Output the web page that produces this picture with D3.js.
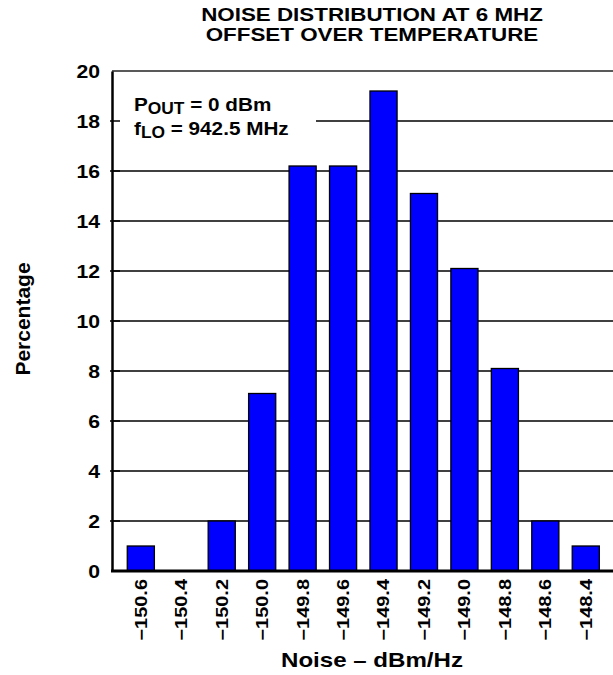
<!DOCTYPE html>
<html>
<head>
<meta charset="utf-8">
<script src="https://cdn.jsdelivr.net/npm/d3@7"></script>
<style>
  html, body { margin: 0; padding: 0; background: #fff; }
  svg { display: block; }
  text { font-family: "Liberation Sans", Arial, Helvetica, sans-serif; font-weight: bold; fill: #000; }
</style>
</head>
<body>
<script>
const categories = ["\u2212150.6", "\u2212150.4", "\u2212150.2", "\u2212150.0", "\u2212149.8", "\u2212149.6",
                    "\u2212149.4", "\u2212149.2", "\u2212149.0", "\u2212148.8", "\u2212148.6", "\u2212148.4"];
const percentages = [1, 0, 2, 7.1, 16.2, 16.2, 19.2, 15.1, 12.1, 8.1, 2, 1];
const yTicks = [0, 2, 4, 6, 8, 10, 12, 14, 16, 18, 20];
const titleLines = ["NOISE DISTRIBUTION AT 6 MHZ", "OFFSET OVER TEMPERATURE"];
const xTitle = "Noise \u2013 dBm/Hz";
const yTitle = "Percentage";

const W = 613, H = 675;
const plotL = 112, plotR = 613, plotT = 71, plotB = 571;
const SX = 1.21; // horizontal stretch of the original lettering

const svg = d3.select("body").append("svg").attr("width", W).attr("height", H);

const y = d3.scaleLinear().domain([0, 20]).range([plotB, plotT]);
const x = d3.scaleBand().domain(categories).range([120.6, 606])
  .paddingInner(0.33).paddingOuter(0.165);

// Title
svg.append("g").selectAll("text").data(titleLines).join("text")
  .attr("transform", (d, i) => `translate(372,${21 + i * 20}) scale(${SX},1)`)
  .attr("text-anchor", "middle").attr("font-size", 18.5)
  .text(d => d);

// Gridlines
svg.append("g").selectAll("line").data(yTicks.filter(t => t > 0 && t < 20)).join("line")
  .attr("x1", plotL).attr("x2", plotR)
  .attr("y1", d => y(d)).attr("y2", d => y(d))
  .attr("stroke", "#000").attr("stroke-width", 1.4);

// top border
svg.append("line").attr("x1", plotL).attr("x2", plotR).attr("y1", y(20)).attr("y2", y(20))
  .attr("stroke", "#222").attr("stroke-width", 1.5);

// Bars
svg.append("g").selectAll("rect").data(percentages).join("rect")
  .attr("x", (d, i) => x(categories[i]))
  .attr("width", x.bandwidth())
  .attr("y", d => y(d))
  .attr("height", d => y(0) - y(d))
  .attr("fill", "#0000ff")
  .attr("stroke", "#000").attr("stroke-width", 1.3)
  .style("display", d => d > 0 ? null : "none");

// Legend background
svg.append("rect").attr("x", plotL + 1).attr("y", 88).attr("width", 203).attr("height", 58).attr("fill", "#fff");

// Inner tick marks
svg.append("g").selectAll("line").data(yTicks.filter(t => t > 0 && t < 20)).join("line")
  .attr("x1", plotL - 2).attr("x2", plotL + 8)
  .attr("y1", d => y(d)).attr("y2", d => y(d))
  .attr("stroke", "#000").attr("stroke-width", 1.5);

// Legend text
const lg = svg.append("g").attr("font-size", 18.7);
const t1 = lg.append("text").attr("transform", `translate(134,110.5) scale(1.107,1)`);
t1.append("tspan").text("P");
t1.append("tspan").attr("font-size", 15.7).attr("dy", 3.5).text("OUT");
t1.append("tspan").attr("dy", -3.5).text(" = 0 dBm");
const t2 = lg.append("text").attr("transform", `translate(134,134.5) scale(1.107,1)`);
t2.append("tspan").text("f");
t2.append("tspan").attr("font-size", 15.7).attr("dy", 3.5).text("LO");
t2.append("tspan").attr("dy", -3.5).text(" = 942.5 MHz");

// Y axis
const yAxis = svg.append("g").attr("transform", `translate(${plotL},0)`)
  .call(d3.axisLeft(y).tickValues(yTicks).tickSize(0));
yAxis.select(".domain").attr("stroke", "#000").attr("stroke-width", 2.5);
yAxis.selectAll("text").attr("font-size", 17.5).attr("font-family", null)
  .attr("x", 0).attr("dy", "0.36em")
  .attr("transform", `translate(-12,0) scale(${SX},1)`);

// X axis
const xAxis = svg.append("g").attr("transform", `translate(0,${plotB})`)
  .call(d3.axisBottom(x).tickSize(0).tickPadding(0));
xAxis.select(".domain").attr("d", `M${plotL - 1},0H${plotR}`).attr("stroke", "#000").attr("stroke-width", 3);
xAxis.selectAll("text")
  .attr("font-size", 16.5).attr("font-family", null)
  .attr("transform", `rotate(-90) translate(-8,0) scale(${SX},1)`)
  .attr("text-anchor", "end")
  .attr("x", 0).attr("y", 0).attr("dy", "0.36em");

// Axis titles
svg.append("text").attr("transform", "translate(372,666.5) scale(1.175,1)").attr("text-anchor", "middle")
  .attr("font-size", 20.5).text(xTitle);
svg.append("text").attr("transform", "translate(30,319) rotate(-90) scale(1.05,1)")
  .attr("text-anchor", "middle").attr("font-size", 20).text(yTitle);
</script>
</body>
</html>
